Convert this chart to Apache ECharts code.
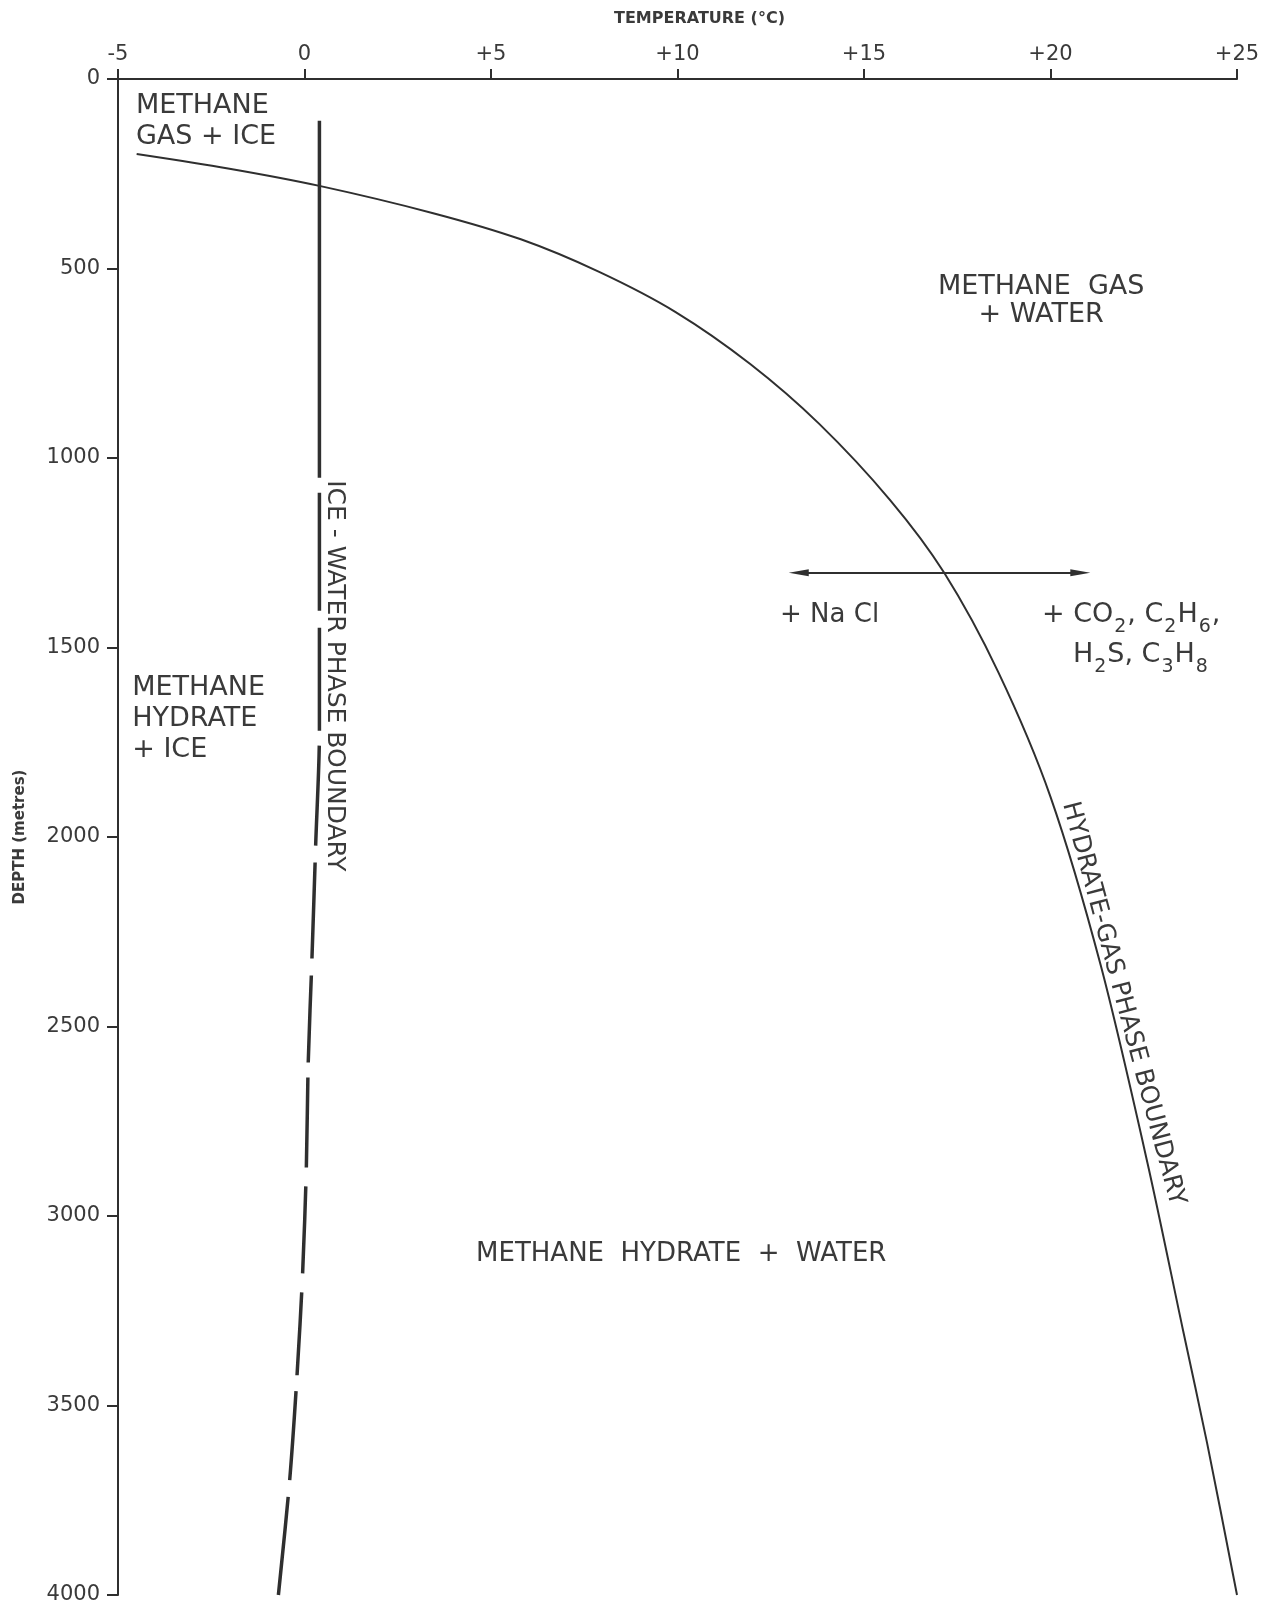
<!DOCTYPE html>
<html>
<head>
<meta charset="utf-8">
<title>Methane hydrate stability</title>
<script src="https://cdn.jsdelivr.net/npm/echarts@6.0.0/dist/echarts.min.js"></script>
<style>
  html, body { margin: 0; padding: 0; background: #ffffff; }
  #chart { width: 1274px; height: 1606px; }
</style>
</head>
<body>
<div id="chart"></div>
<script>
// Temperature axis (°C) ticks and printed labels
const tempTicks = [-5, 0, 5, 10, 15, 20, 25];
const tempTickLabels = ['-5', '0', '+5', '+10', '+15', '+20', '+25'];

// Depth axis (metres) ticks and printed labels
const depthTicks = [0, 500, 1000, 1500, 2000, 2500, 3000, 3500, 4000];
const depthTickLabels = ['0', '500', '1000', '1500', '2000', '2500', '3000', '3500', '4000'];

// Hydrate–gas phase boundary (temperature °C, depth m)
const hydrateTemp  = [-4.5, -2.05, 0.4, 3.45, 5.8, 7.9, 9.95, 11.95, 13.8, 15.7, 17.15, 18.6, 20.0, 21.35, 22.6, 23.55, 24.2, 25.0];
const hydrateDepth = [198, 236, 282, 354, 423, 509, 615, 752, 910, 1111, 1303, 1565, 1894, 2340, 2860, 3300, 3600, 4000];

// Ice–water phase boundary (temperature °C, depth m)
const iceTemp  = [0.4, 0.4, 0.3, 0.2, 0.1, 0.05, -0.05, -0.2, -0.4, -0.7];
const iceDepth = [110, 1720, 2020, 2320, 2595, 2870, 3150, 3420, 3700, 4000];

// Direction of boundary shift with added NaCl (left) or CO2, C2H6, H2S, C3H8 (right)
const shiftTemp  = [13.25, 20.8];
const shiftDepth = [1303, 1303];

const INK = '#2f2f2f';
const TEXT = '#3a3a3a';
const FONT = '"DejaVu Sans", "Noto Sans", sans-serif';

function zip(xs, ys) { return xs.map((x, i) => [x, ys[i]]); }
function lookup(ticks, labels) {
  return v => { const i = ticks.indexOf(v); return i >= 0 ? labels[i] : ''; };
}

const chart = echarts.init(document.getElementById('chart'), null, { renderer: 'canvas' });

chart.setOption({
  backgroundColor: '#ffffff',
  animation: false,
  grid: { left: 118, right: 37, top: 79, bottom: 11, outerBoundsMode: 'none', containLabel: false },
  xAxis: {
    type: 'value',
    position: 'top',
    min: tempTicks[0],
    max: tempTicks[tempTicks.length - 1],
    interval: 5,
    name: 'TEMPERATURE (°C)',
    nameLocation: 'middle',
    nameGap: 52,
    nameTextStyle: { fontFamily: FONT, fontSize: 16, fontWeight: 'bold', color: TEXT, padding: [0, 0, 0, 44] },
    axisLine: { show: true, onZero: false, lineStyle: { color: INK, width: 2 } },
    axisTick: { show: true, inside: false, length: 10, lineStyle: { color: INK, width: 2 } },
    axisLabel: { show: true, margin: 14, fontFamily: FONT, fontSize: 21, color: TEXT,
                 formatter: lookup(tempTicks, tempTickLabels), showMinLabel: true, showMaxLabel: true },
    splitLine: { show: false }
  },
  yAxis: {
    type: 'value',
    inverse: true,
    min: depthTicks[0],
    max: depthTicks[depthTicks.length - 1],
    interval: 500,
    name: 'DEPTH (metres)',
    nameLocation: 'middle',
    nameRotate: 90,
    nameGap: 90,
    nameTextStyle: { fontFamily: FONT, fontSize: 15, fontWeight: 'bold', color: TEXT },
    axisLine: { show: true, onZero: false, lineStyle: { color: INK, width: 2 } },
    axisTick: { show: true, inside: false, length: 11, lineStyle: { color: INK, width: 2 } },
    axisLabel: { show: true, margin: 18, fontFamily: FONT, fontSize: 21, color: TEXT,
                 formatter: lookup(depthTicks, depthTickLabels), showMinLabel: true, showMaxLabel: true },
    splitLine: { show: false }
  },
  series: [
    {
      name: 'Ice-water phase boundary',
      type: 'line',
      data: zip(iceTemp, iceDepth),
      showSymbol: false,
      smooth: 0.3,
      silent: true,
      lineStyle: {
        color: INK,
        width: 3.5,
        // long solid run near the surface, then broken into dashes
        type: [357, 15, 118, 17, 103, 15, 100, 17, 96, 17, 87, 15, 90, 19, 87, 19, 83, 16, 89, 17, 140]
      },
      z: 2
    },
    {
      name: 'Hydrate-gas phase boundary',
      type: 'line',
      data: zip(hydrateTemp, hydrateDepth),
      showSymbol: false,
      smooth: 0.3,
      silent: true,
      lineStyle: { color: INK, width: 2 },
      z: 3
    },
    {
      name: 'Boundary shift',
      type: 'line',
      data: [],
      silent: true,
      markLine: {
        silent: true,
        symbol: ['triangle', 'triangle'],
        symbolSize: [7, 20],
        label: { show: false },
        lineStyle: { color: INK, width: 1.8, type: 'solid' },
        data: [[
          { coord: [shiftTemp[0], shiftDepth[0]] },
          { coord: [shiftTemp[1], shiftDepth[1]] }
        ]]
      }
    }
  ]
});

// Annotations anchored to data coordinates
function at(t, d) { return chart.convertToPixel({ gridIndex: 0 }, [t, d]); }

function label(text, t, d, opts) {
  const p = at(t, d);
  const o = opts || {};
  return {
    type: 'text',
    x: p[0],
    y: p[1],
    rotation: o.rotation || 0,
    silent: true,
    z: 10,
    style: {
      text: text,
      fontFamily: FONT,
      fontSize: o.fontSize || 27,
      fill: TEXT,
      lineHeight: o.lineHeight || 31,
      align: o.align || 'left',
      textAlign: o.align || 'left',
      verticalAlign: 'middle',
      textVerticalAlign: 'middle',
      rich: o.rich
    }
  };
}

const sub = { s: { fontSize: 19, fontFamily: FONT, fill: TEXT, padding: [24, 1, 0, 1] } };

chart.setOption({
  graphic: {
    elements: [
      label('METHANE\nGAS + ICE', -4.52, 111),
      label('METHANE  GAS\n+ WATER', 19.75, 586, { align: 'center', lineHeight: 28 }),
      label('METHANE\nHYDRATE\n+ ICE', -4.62, 1689),
      label('METHANE  HYDRATE  +  WATER', 10.1, 3100, { align: 'center', fontSize: 26 }),
      label('+ Na Cl', 12.75, 1414, { fontSize: 26 }),
      label('+ CO{s|2}, C{s|2}H{s|6},', 19.77, 1414, { fontSize: 27, rich: sub }),
      label('H{s|2}S, C{s|3}H{s|8}', 20.6, 1520, { fontSize: 27, rich: sub }),
      label('ICE - WATER PHASE BOUNDARY', 0.8, 1575,
            { align: 'center', fontSize: 25, rotation: -Math.PI / 2 }),
      label('HYDRATE-GAS PHASE BOUNDARY', 21.95, 2440,
            { align: 'center', fontSize: 25, rotation: -75 * Math.PI / 180 })
    ]
  }
});
</script>
</body>
</html>
